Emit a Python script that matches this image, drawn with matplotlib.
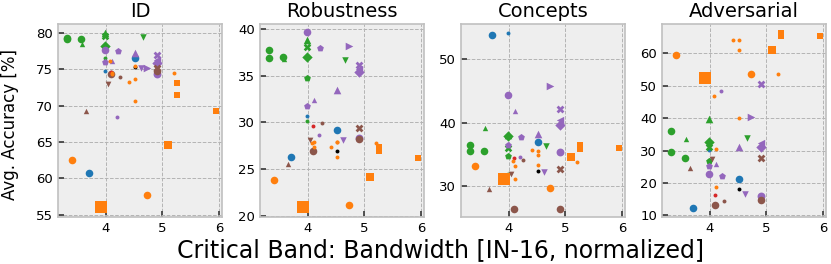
import matplotlib.pyplot as plt

panels = ["ID", "Robustness", "Concepts", "Adversarial"]

# one entry per model, same order in every list
group = (["C0"] * 3 + ["C2"] * 10 + ["C4"] * 12 + ["C5"] * 6
         + ["C3"] + ["k"] + ["C1"] * 15)

bandwidth = [3.70, 4.51, 3.98,
             3.32, 3.32, 3.57, 3.58, 3.99, 3.99, 3.99, 3.99, 3.99, 4.66,
             3.99, 3.99, 4.21, 4.20, 4.11, 4.51, 4.72, 4.62, 4.91, 4.91, 4.91, 4.91,
             4.10, 4.91, 4.91, 4.25, 3.65, 4.04,
             4.10,
             4.51,
             3.40, 3.92, 4.73, 5.09, 5.26, 5.26, 5.95, 5.20, 4.41, 4.52, 4.52, 4.51,
             4.07, 4.11, 4.11]

acc_id = [60.7, 76.6, 74.7,
          79.3, 79.2, 79.2, 78.4, 80.0, 78.2, 79.6, 78.0, 76.5, 79.4,
          77.6, 76.0, 77.5, 68.4, 76.1, 77.2, 75.2, 75.1, 76.9, 74.3, 76.3, 75.8,
          74.4, 74.8, 75.2, 73.9, 69.2, 72.9,
          74.6,
          75.3,
          62.5, 56.1, 57.7, 64.6, 73.1, 71.5, 69.2, 74.5, 73.2, 73.7, 70.6, 75.5,
          76.1, 74.5, 74.3]

acc_robustness = [26.3, 29.2, 30.7,
                  37.7, 36.9, 37.0, 36.8, 38.8, 37.0, 38.1, 34.7, 30.2, 36.7,
                  39.6, 31.7, 37.9, 28.7, 32.4, 33.5, 38.2, 28.1, 36.1, 28.3, 35.7, 35.4,
                  26.9, 28.2, 29.4, 29.9, 25.6, 28.1,
                  29.6,
                  26.9,
                  23.8, 21.0, 21.2, 24.2, 27.4, 26.9, 26.2, 27.8, 27.4, 27.95, 26.3, 27.9,
                  27.8, 27.4, 27.9]

acc_concepts = [53.7, 37.0, 54.1,
                36.5, 35.5, 35.6, 39.2, 38.0, 37.9, 36.1, 34.8, 31.9, 36.3,
                44.4, 36.5, 37.8, 34.6, 41.8, 38.3, 45.7, 32.3, 42.2, 35.4, 40.4, 39.6,
                26.5, 26.5, 32.7, 34.2, 29.6, 32.0,
                34.5,
                32.5,
                33.2, 31.1, 29.8, 34.7, 36.5, 35.9, 36.0, 33.9, 35.7, 35.6, 34.9, 33.3,
                34.0, 33.2, 31.2]

acc_adversarial = [12.2, 21.2, 30.3,
                   36.2, 29.5, 27.7, 33.6, 39.8, 32.8, 31.0, 26.9, 27.0, 33.8,
                   22.9, 25.1, 22.2, 48.4, 26.0, 31.0, 40.3, 16.7, 50.7, 16.0, 32.4, 31.0,
                   13.2, 14.7, 27.7, 14.5, 24.6, 27.4,
                   16.2,
                   18.3,
                   59.5, 52.5, 53.6, 61.2, 66.2, 65.4, 65.4, 53.8, 64.3, 64.3, 61.2, 40.1,
                   46.9, 30.5, 18.8]

# marker style per model
markers = (['o', 'o', 'o']
           + ['o', 'o', 'o', '^', '^', 'D', 'X', 'p', 'o', 'v']
           + ['o', 'p', 'p', 'o', '^', '^', '>', 'v', 'X', 'o', '<', 'D']
           + ['o', 'o', 'X', 'o', '^', 'v']
           + ['o'] + ['o']
           + ['o', 's', 'o', 's', 's', 's', 's', 'o', 'o', 'o', 'o', 'o', 'o', 'o', 'o'])
sizes = ([30, 30, 8]
         + [30, 30, 30, 15, 30, 28, 30, 26, 8, 22]
         + [30, 26, 26, 8, 15, 30, 30, 22, 32, 32, 28, 28]
         + [30, 30, 32, 8, 15, 17]
         + [8] + [8]
         + [30, 70, 30, 34, 15, 15, 15, 8, 8, 8, 8, 8, 8, 8, 8])

colors = {"C0": "#1f77b4", "C1": "#ff7f0e", "C2": "#2ca02c", "C3": "#d62728",
          "C4": "#9467bd", "C5": "#8c564b", "k": "#000000"}

values = [acc_id, acc_robustness, acc_concepts, acc_adversarial]
ylims = [(54.7, 81.2), (19.9, 40.5), (25.2, 55.5), (9.5, 69.1)]
yticks = [range(55, 81, 5), range(20, 41, 5), range(30, 51, 10), range(10, 61, 10)]
lefts = [58, 260, 461, 662]

fig = plt.figure(figsize=(8.31, 2.64), dpi=100)

for k, name in enumerate(panels):
    ax = fig.add_axes([lefts[k] / 831, 0.178, 164 / 831, 0.731])
    ax.set_facecolor("#eeeeee")
    for i in range(len(bandwidth)):
        ax.scatter(bandwidth[i], values[k][i], s=sizes[i], marker=markers[i],
                   color=colors[group[i]], linewidths=0, zorder=3)
    ax.set_xlim(3.16, 6.05)
    ax.set_ylim(*ylims[k])
    ax.set_xticks([4, 5, 6])
    ax.set_yticks(list(yticks[k]))
    ax.grid(True, ls="--", color="#b4b4b4", lw=0.7)
    ax.set_axisbelow(True)
    for sp in ax.spines.values():
        sp.set_color("#c0c0c0")
        sp.set_linewidth(1.2)
    ax.tick_params(direction="in", length=4, width=1.3, color="#444444",
                   labelsize=9.5, pad=3.5)
    ax.set_title(name, fontsize=14, pad=5)

fig.text(0.012, 0.527, "Avg. Accuracy [%]", rotation=90, ha="center",
         va="center", fontsize=12)
fig.text(0.53, 0.027, "Critical Band: Bandwidth [IN-16, normalized]",
         ha="center", va="baseline", fontsize=17)

fig.savefig("out.png", dpi=100)
